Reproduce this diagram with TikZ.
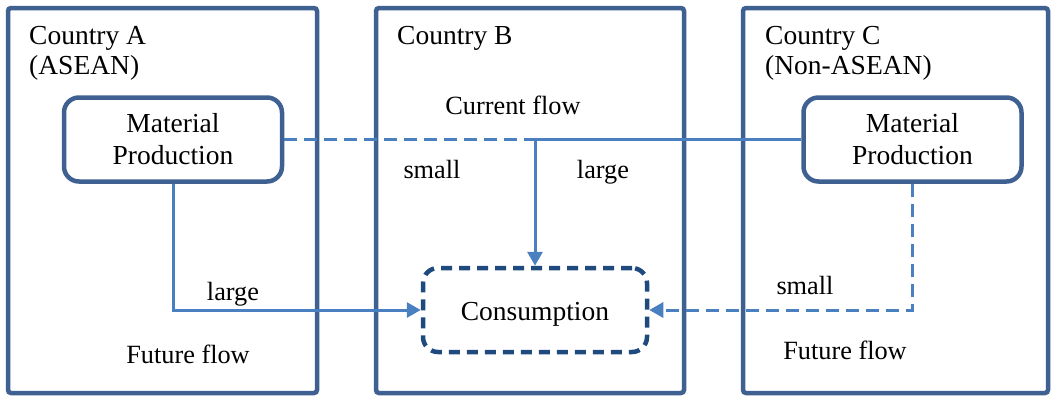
\documentclass[tikz,border=0pt]{standalone}
\usepackage{fontspec}
\setmainfont{Liberation Serif}
\usetikzlibrary{arrows.meta}
\definecolor{frameblue}{HTML}{3E6192}
\definecolor{consblue}{HTML}{1F4A7E}
\definecolor{flowblue}{HTML}{4A7FC0}
\tikzset{
  country/.style={draw=frameblue, line width=4.5pt, rounded corners=3pt, minimum width=#1, minimum height=385pt, inner sep=0pt},
  producer/.style={draw=frameblue, line width=4.5pt, rounded corners=15pt, minimum width=218pt, minimum height=84pt, align=center, font=\fontsize{27.5}{32}\selectfont},
  consumer/.style={draw=consblue, line width=4.5pt, rounded corners=15pt, dash pattern=on 11pt off 7pt, minimum width=224pt, minimum height=84pt},
  caption/.style={anchor=base west, inner sep=0pt, font=\fontsize{27.5}{30}\selectfont},
  tag/.style={anchor=base, inner sep=0pt, font=\fontsize{26.3}{30}\selectfont},
  flow/.style={draw=flowblue, line width=3pt},
  weakflow/.style={flow, dash pattern=on 13pt off 7pt},
  tip/.style={-{Triangle[length=14pt,width=15pt]}}
}
\begin{document}
\begin{tikzpicture}[x=1pt,y=-1pt]
\useasboundingbox (0,0) rectangle (1053,397);

% country frames
\node[country=309pt] (boxA) at (162.5,200.5) {};
\node[country=308pt] (boxB) at (530,200.5) {};
\node[country=305pt] (boxC) at (895.5,200.5) {};

% country names
\node[caption] (nameA1) at (29,44) {Country A};
\node[caption] (nameA2) at (29,74) {(ASEAN)};
\node[caption] (nameB) at (397,44) {Country B};
\node[caption] (nameC1) at (765,44) {Country C};
\node[caption] (nameC2) at (765,74) {(Non-ASEAN)};

% producers and consumer
\node[producer] (prodA) at (173,139.5) {Material\\Production};
\node[producer] (prodC) at (912.5,139.5) {Material\\Production};
\node[consumer] (cons) at (535,310) {};
\node[anchor=base, inner sep=0pt, font=\fontsize{27.5}{32}\selectfont] (consText) at (535,320) {Consumption};

% current flow: C -> B (large), A -> B (small)
\coordinate (join) at (cons.north |- prodC.west);
\draw[flow, tip] (prodC.west) -- (join) -- (cons.north);
\draw[weakflow] (prodA.east) -- (join);

% future flow: A -> B (large), C -> B (small)
\draw[flow, tip] (prodA.south) |- (cons.west);
\draw[weakflow, tip] (prodC.south) |- (cons.east);

% flow labels
\node[tag] (curLbl) at (513,114) {Current flow};
\node[tag] (smallB) at (432,178) {small};
\node[tag] (largeB) at (603,178) {large};
\node[tag] (largeA) at (233,300) {large};
\node[tag] (futA) at (188,363) {Future flow};
\node[tag] (smallC) at (805,294) {small};
\node[tag] (futC) at (845,359) {Future flow};
\end{tikzpicture}
\end{document}
